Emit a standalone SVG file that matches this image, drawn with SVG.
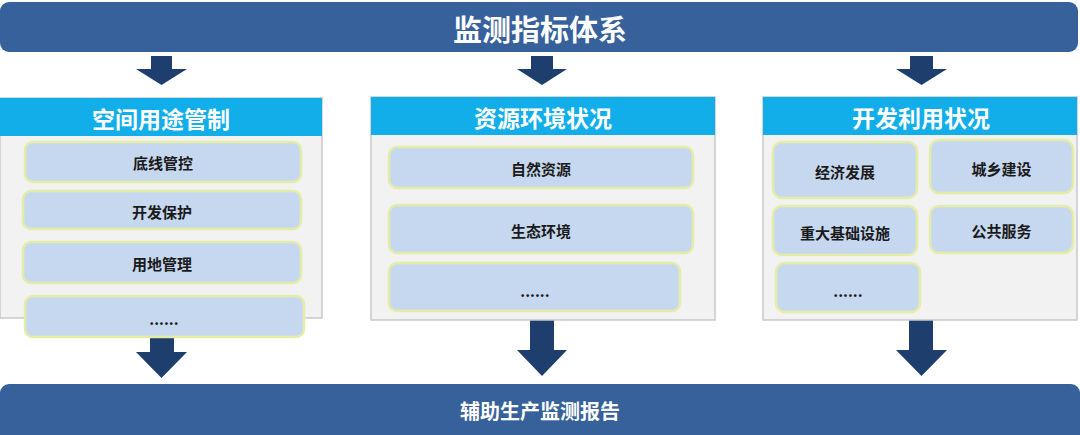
<svg xmlns="http://www.w3.org/2000/svg" width="1080" height="435" viewBox="0 0 1080 435">
<defs>
<style>
.bar{fill:#36619a;}
.arrow{fill:#1e3e6e;}
.panel{fill:#f2f2f2;stroke:#c9c9c9;stroke-width:1.5;}
.head{fill:#12aeea;}
.item{fill:#c6d8ef;stroke:#e4eda6;stroke-width:2.5;}
.t{font-family:"Noto Sans CJK SC","Noto Sans",sans-serif;font-weight:bold;text-anchor:middle;dominant-baseline:central;}
.big{fill:#ffffff;font-size:29px;}
.hd{fill:#ffffff;font-size:23px;}
.foot{fill:#ffffff;font-size:20px;}
.it{fill:#1a1a1a;font-size:15px;}
</style>
</defs>
<rect width="1080" height="435" fill="#ffffff"/>

<g id="connectors">
<polygon class="arrow" points="151,56 172,56 172,69 187,69 161.5,85 136,69 151,69"/>
<polygon class="arrow" points="531,56 553,56 553,69 567,69 542,85 517,69 531,69"/>
<polygon class="arrow" points="910,56 933,56 933,69 947,69 921.5,85 896,69 910,69"/>
<polygon class="arrow" points="150,318 174,318 174,352 187,352 161.5,378 136,352 150,352"/>
<polygon class="arrow" points="530,320 554,320 554,350 567,350 542,376 517,350 530,350"/>
<polygon class="arrow" points="909,320 933,320 933,350 947,350 921.5,376 896,350 909,350"/>
</g>

<g id="top-bar">
<rect class="bar" x="0" y="2" width="1078" height="50" rx="9"/>
<text class="t big" x="540" y="28">监测指标体系</text>
</g>

<g id="panel-1">
<rect class="panel" x="0" y="98" width="322" height="220"/>
<rect class="head" x="0" y="98" width="322" height="38"/>
<text class="t hd" x="161" y="117.5">空间用途管制</text>
</g>
<g id="p1-item-1">
<rect class="item" x="25" y="142" width="276" height="40" rx="8"/>
<text class="t it" x="163" y="162.5">底线管控</text>
</g>
<g id="p1-item-2">
<rect class="item" x="23" y="191" width="278" height="38" rx="8"/>
<text class="t it" x="162" y="211">开发保护</text>
</g>
<g id="p1-item-3">
<rect class="item" x="23" y="242" width="278" height="41" rx="8"/>
<text class="t it" x="162" y="263">用地管理</text>
</g>
<g id="p1-item-4">
<rect class="item" x="25" y="296" width="279" height="41" rx="8"/>
<text class="t it" x="164" y="318">......</text>
</g>

<g id="panel-2">
<rect class="panel" x="371" y="97" width="344" height="223"/>
<rect class="head" x="371" y="97" width="344" height="38"/>
<text class="t hd" x="543" y="116.5">资源环境状况</text>
</g>
<g id="p2-item-1">
<rect class="item" x="389" y="147" width="304" height="41" rx="8"/>
<text class="t it" x="541" y="168">自然资源</text>
</g>
<g id="p2-item-2">
<rect class="item" x="389" y="205" width="304" height="48" rx="8"/>
<text class="t it" x="541" y="230">生态环境</text>
</g>
<g id="p2-item-3">
<rect class="item" x="389" y="263" width="291" height="48" rx="8"/>
<text class="t it" x="535" y="290">......</text>
</g>

<g id="panel-3">
<rect class="panel" x="763" y="97" width="314" height="223"/>
<rect class="head" x="763" y="97" width="314" height="38"/>
<text class="t hd" x="921" y="116.5">开发利用状况</text>
</g>
<g id="p3-item-1">
<rect class="item" x="773" y="142" width="144" height="56" rx="9"/>
<text class="t it" x="845" y="171">经济发展</text>
</g>
<g id="p3-item-2">
<rect class="item" x="930" y="140" width="143" height="53" rx="9"/>
<text class="t it" x="1001.5" y="168">城乡建设</text>
</g>
<g id="p3-item-3">
<rect class="item" x="773" y="206" width="144" height="49" rx="9"/>
<text class="t it" x="845" y="232">重大基础设施</text>
</g>
<g id="p3-item-4">
<rect class="item" x="930" y="206" width="143" height="47" rx="9"/>
<text class="t it" x="1001.5" y="230">公共服务</text>
</g>
<g id="p3-item-5">
<rect class="item" x="776" y="263" width="144" height="49" rx="9"/>
<text class="t it" x="848" y="290">......</text>
</g>

<g id="bottom-bar">
<rect class="bar" x="0" y="384" width="1080" height="60" rx="9"/>
<text class="t foot" x="540" y="410">辅助生产监测报告</text>
</g>
</svg>
